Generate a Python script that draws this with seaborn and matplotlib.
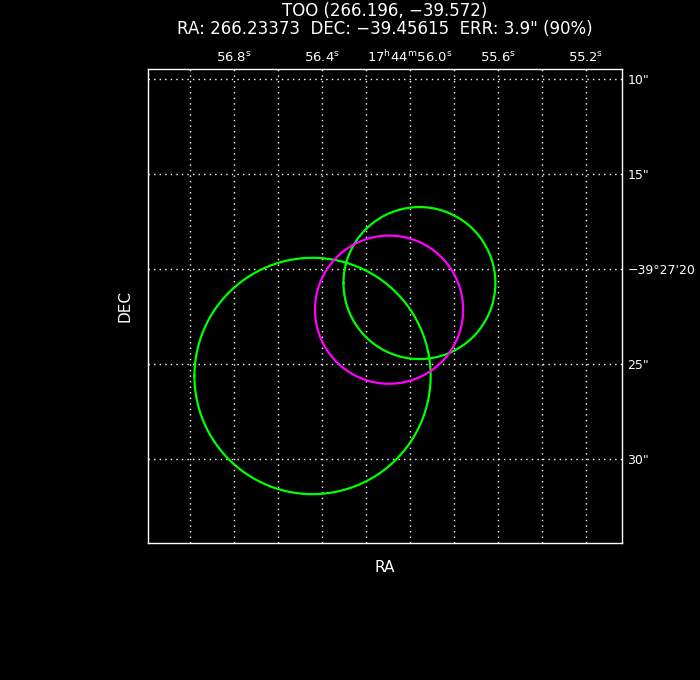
import numpy as np
import pandas as pd
import matplotlib
matplotlib.use("Agg")
import matplotlib.pyplot as plt
import seaborn as sns

# error circles: RA seconds (17h44m..s), DEC arcsec (-39d27'..")
circle_names = ["src_a", "src_b", "too"]
circle_ra_s = [56.443, 55.957, 56.095]
circle_dec_as = [25.63, 20.74, 22.14]
circle_rad_as = [6.22, 4.0, 3.9]
circle_colors = ["#00ff00", "#00ff00", "#ff00ff"]

ra_grid = [57.0, 56.8, 56.6, 56.4, 56.2, 56.0, 55.8, 55.6, 55.4, 55.2]
ra_labels = ["", "56.8$^{\\rm s}$", "", "56.4$^{\\rm s}$", "",
             "17$^{\\rm h}$44$^{\\rm m}$56.0$^{\\rm s}$", "", "55.6$^{\\rm s}$", "", "55.2$^{\\rm s}$"]
dec_grid = [10, 15, 20, 25, 30]
dec_labels = ['10"', '15"', "\u221239\u00b027'20", '25"', '30"']

cosd = np.cos(np.radians(39.45615))

# build outlines
rows = []
t = np.linspace(0, 2 * np.pi, 361)
for n, ra, dec, r in zip(circle_names, circle_ra_s, circle_dec_as, circle_rad_as):
    xs = ra + r * np.cos(t) / (15 * cosd)
    ys = dec + r * np.sin(t)
    for i in range(len(t)):
        rows.append({"name": n, "ra": xs[i], "dec": ys[i], "order": i})
df = pd.DataFrame(rows)

sns.set_style("dark", {"axes.facecolor": "black", "figure.facecolor": "black"})
plt.rcParams["font.family"] = ["DejaVu Sans"]

fig = plt.figure(figsize=(7, 6.8), dpi=100)
ax = fig.add_axes([148 / 700, 1 - 543 / 680, 474 / 700, 474 / 680])
ax.set_facecolor("black")

sns.lineplot(data=df, x="ra", y="dec", hue="name", units="name", estimator=None,
             sort=False, palette=dict(zip(circle_names, circle_colors)),
             linewidth=1.6, legend=False, ax=ax)

ax.set_xlim(57.191, 55.036)
ax.set_ylim(34.42, 9.474)

for v in ra_grid:
    ax.axvline(v, color="white", ls=(0, (1, 3)), lw=1, zorder=0)
for v in dec_grid:
    ax.axhline(v, color="white", ls=(0, (1, 3)), lw=1, zorder=0)

ax.set_xticks(ra_grid)
ax.set_xticklabels(ra_labels)
ax.set_yticks(dec_grid)
ax.set_yticklabels(dec_labels)
ax.xaxis.tick_top()
ax.yaxis.tick_right()
ax.tick_params(length=0, colors="white", labelsize=9.5)
ax.tick_params(axis="x", pad=3)
ax.tick_params(axis="y", pad=4, labelsize=9)
ax.grid(False)
for s in ax.spines.values():
    s.set_visible(True)
    s.set_color("white")
    s.set_linewidth(1)

ax.set_xlabel("")
ax.set_ylabel("")
fig.text(385 / 700, 1 - 567 / 680, "RA", color="white", fontsize=11, ha="center", va="center")
fig.text(125 / 700, 1 - 306 / 680, "DEC", color="white", fontsize=11, ha="center",
         va="center", rotation=90)
fig.text(385 / 700, 1 - 11 / 680, "TOO (266.196, \u221239.572)", color="white",
         fontsize=12, ha="center", va="center")
fig.text(385 / 700, 1 - 29 / 680, "RA: 266.23373  DEC: \u221239.45615  ERR: 3.9\" (90%)",
         color="white", fontsize=12, ha="center", va="center")

fig.savefig("out.png", dpi=100, facecolor="black")
